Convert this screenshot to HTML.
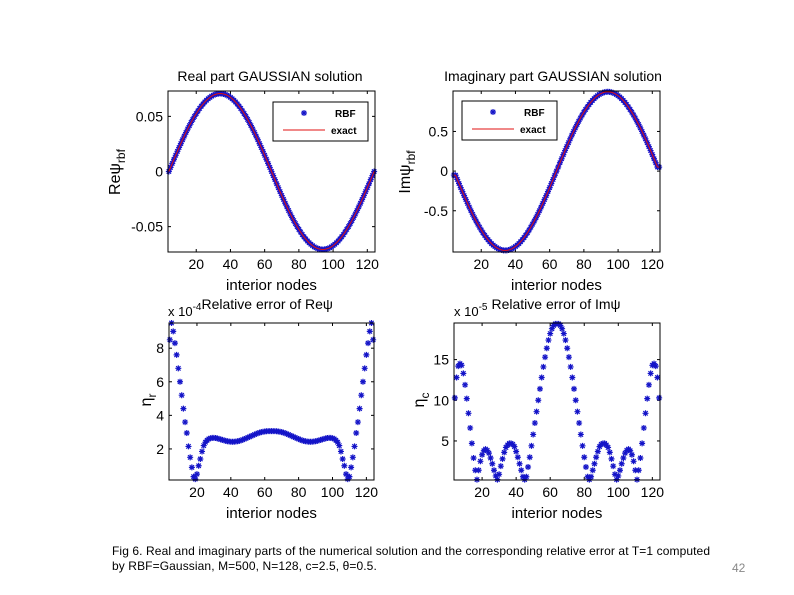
<!DOCTYPE html>
<html><head><meta charset="utf-8"><style>
html,body{margin:0;padding:0;background:#fff;}
svg{display:block;font-family:"Liberation Sans",sans-serif;}
.cap{position:absolute;left:112px;font-family:"Liberation Sans",sans-serif;font-size:12px;letter-spacing:0.1px;color:#000;white-space:nowrap;}
</style></head><body>
<div style="position:relative;width:794px;height:595px;overflow:hidden">
<svg id="fig" width="794" height="595"></svg>
<div class="cap" style="top:544px">Fig 6. Real and imaginary parts of the numerical solution and the corresponding relative error at T=1 computed</div>
<div class="cap" style="top:559px">by RBF=Gaussian, M=500, N=128, c=2.5, θ=0.5.</div>
<div style="position:absolute;left:732px;top:561px;font-family:'Liberation Sans',sans-serif;font-size:12px;color:#888">42</div>
</div>
<script>
const xStart = 4;
const xTicks = [20,40,60,80,100,120];
const reTicks = [-0.05,0,0.05];
const reTickLabels = ["-0.05","0","0.05"];
const imTicks = [-0.5,0,0.5];
const imTickLabels = ["-0.5","0","0.5"];
const errReTicks = [2,4,6,8];
const errImTicks = [5,10,15];
const rePsi = [0,.0037,.0074,.0111,.0147,.0183,.0218,.0253,.0288,.0321,.0354,.0385,.0416,.0445,.0473,.0500,.0525,.0549,.0572,.0593,.0612,.0630,.0646,.0660,.0672,.0683,.0692,.0698,.0703,.0706,.0707,
.0706,.0703,.0698,.0692,.0683,.0672,.0660,.0646,.0630,.0612,.0593,.0572,.0549,.0525,.0500,.0473,.0445,.0416,.0385,.0354,.0321,.0288,.0253,.0218,.0183,.0147,.0111,.0074,.0037,0,
-.0037,-.0074,-.0111,-.0147,-.0183,-.0218,-.0253,-.0288,-.0321,-.0354,-.0385,-.0416,-.0445,-.0473,-.0500,-.0525,-.0549,-.0572,-.0593,-.0612,-.0630,-.0646,-.0660,-.0672,-.0683,-.0692,-.0698,-.0703,-.0706,-.0707,
-.0706,-.0703,-.0698,-.0692,-.0683,-.0672,-.0660,-.0646,-.0630,-.0612,-.0593,-.0572,-.0549,-.0525,-.0500,-.0473,-.0445,-.0416,-.0385,-.0354,-.0321,-.0288,-.0253,-.0218,-.0183,-.0147,-.0111,-.0074,-.0037,0];
const imPsi = [-.05,-.052,-.105,-.156,-.208,-.259,-.309,-.358,-.407,-.454,-.5,-.545,-.588,-.629,-.669,-.707,-.743,-.777,-.809,-.839,-.866,-.891,-.914,-.934,-.951,-.966,-.978,-.988,-.995,-.999,-1,
-.999,-.995,-.988,-.978,-.966,-.951,-.934,-.914,-.891,-.866,-.839,-.809,-.777,-.743,-.707,-.669,-.629,-.588,-.545,-.5,-.454,-.407,-.358,-.309,-.259,-.208,-.156,-.105,-.052,0,
.052,.105,.156,.208,.259,.309,.358,.407,.454,.5,.545,.588,.629,.669,.707,.743,.777,.809,.839,.866,.891,.914,.934,.951,.966,.978,.988,.995,.999,1,
.999,.995,.988,.978,.966,.951,.934,.914,.891,.866,.839,.809,.777,.743,.707,.669,.629,.588,.545,.5,.454,.407,.358,.309,.259,.208,.156,.105,.052,.05];
const errRe = [8.5,9.5,9.0,8.3,7.6,6.8,6.0,5.2,4.4,3.6,2.95,2.15,1.5,0.9,0.35,0.2,0.5,1.0,1.4,1.85,2.2,2.4,2.52,2.6,2.64,2.66,2.66,2.65,2.63,2.6,2.57,2.54,2.51,2.48,2.46,2.44,2.43,2.43,2.43,2.44,2.46,2.48,2.51,2.55,2.59,2.63,2.68,2.72,2.77,2.81,2.86,2.9,2.94,2.97,3.0,3.02,3.04,3.05,3.06,3.06,3.06,
3.06,3.06,3.05,3.04,3.02,3.0,2.97,2.94,2.9,2.86,2.81,2.77,2.72,2.68,2.63,2.59,2.55,2.51,2.48,2.46,2.44,2.43,2.43,2.43,2.44,2.46,2.48,2.51,2.54,2.57,2.6,2.63,2.65,2.66,2.66,2.64,2.6,2.52,2.4,2.2,1.85,1.4,1.0,0.5,0.2,0.35,0.9,1.5,2.15,2.95,3.6,4.4,5.2,6.0,6.8,7.6,8.3,9.0,9.5,8.5];
const errIm = [10.3,12.8,14.2,14.5,14.3,13.3,11.9,10.2,8.4,6.6,4.7,2.9,1.4,0.25,1.4,2.5,3.3,3.8,4.0,3.85,3.5,2.9,2.2,1.4,0.7,0.25,0.9,1.9,2.8,3.6,4.2,4.5,4.7,4.7,4.6,4.3,3.7,3.0,2.2,1.4,0.6,0.25,0.6,1.8,3.0,4.4,5.8,7.2,8.6,10.0,11.4,12.8,14.1,15.3,16.4,17.4,18.2,18.8,19.2,19.4,19.4,
19.4,19.2,18.8,18.2,17.4,16.4,15.3,14.1,12.8,11.4,10.0,8.6,7.2,5.8,4.4,3.0,1.8,0.6,0.25,0.6,1.4,2.2,3.0,3.7,4.3,4.6,4.7,4.7,4.5,4.2,3.6,2.8,1.9,0.9,0.25,0.7,1.4,2.2,2.9,3.5,3.85,4.0,3.8,3.3,2.5,1.4,0.25,1.4,2.9,4.7,6.6,8.4,10.2,11.9,13.3,14.3,14.5,14.2,12.8,10.3];

const NS='http://www.w3.org/2000/svg';
const svg=document.getElementById('fig');
function mk(tag,attrs,parent){const e=document.createElementNS(NS,tag);for(const k in attrs)e.setAttribute(k,attrs[k]);(parent||svg).appendChild(e);return e;}
const XD=[3.5,124.5];
function star(g,cx,cy){
  const d=`M${cx-3},${cy}H${cx+3}M${cx},${cy-3}V${cy+3}M${cx-2.2},${cy-2.2}L${cx+2.2},${cy+2.2}M${cx-2.2},${cy+2.2}L${cx+2.2},${cy-2.2}`;
  const p=mk('path',{d:d,stroke:'#1414c8','stroke-width':1.2,fill:'none'},g);
  
  
}
function panel(o){
  const g=mk('g',{});
  
  
  const sx=v=>o.l+(v-XD[0])/(XD[1]-XD[0])*(o.r-o.l);
  const sy=v=>o.b-(v-o.yd[0])/(o.yd[1]-o.yd[0])*(o.b-o.t);
  xTicks.forEach(t=>{const x=sx(t);
    mk('line',{x1:x,x2:x,y1:o.b,y2:o.b-3,stroke:'#000'},g);
    mk('line',{x1:x,x2:x,y1:o.t,y2:o.t+3,stroke:'#000'},g);
    const tx=mk('text',{x:x,y:o.b+17,'font-size':14,'text-anchor':'middle'},g);tx.textContent=t;
    });
  o.yt.forEach((t,i)=>{const y=sy(t);
    mk('line',{x1:o.l,x2:o.l+3,y1:y,y2:y,stroke:'#000'},g);
    mk('line',{x1:o.r,x2:o.r-3,y1:y,y2:y,stroke:'#000'},g);
    const tx=mk('text',{x:o.l-5,y:y+5,'font-size':14,'text-anchor':'end'},g);tx.textContent=o.ytl?o.ytl[i]:t;
    });
  const clipId='c'+o.name;
  const cp=mk('clipPath',{id:clipId},g);mk('rect',{x:o.l-4,y:o.t-4,width:o.r-o.l+8,height:o.b-o.t+8},cp);
  const pg=mk('g',{'clip-path':`url(#${clipId})`},g);
  if(o.line){let d='';o.data.forEach((v,i)=>{d+=(i?'L':'M')+sx(xStart+i).toFixed(2)+','+sy(v).toFixed(2);});
    const ln=mk('path',{d:d,stroke:'#7a2ad0','stroke-width':4,fill:'none'},pg);
    }
  o.data.forEach((v,i)=>star(pg,sx(xStart+i),sy(v)));
  if(o.line){let d='';o.data.forEach((v,i)=>{d+=(i?'L':'M')+sx(xStart+i).toFixed(2)+','+sy(v).toFixed(2);});
    const ln=mk('path',{d:d,stroke:'#e01010','stroke-width':1,fill:'none'},pg);
    }
  const box=mk('rect',{x:o.l,y:o.t,width:o.r-o.l,height:o.b-o.t,fill:'none',stroke:'#000','stroke-width':1},g);
  
  const xl=mk('text',{x:(o.l+o.r)/2,y:o.b+38,'font-size':15,'text-anchor':'middle'},g);xl.textContent='interior nodes';
  
  return {sx,sy,g};
}
function legend(x,y){
  const g=mk('g',{});
  
  
  mk('rect',{x:x,y:y,width:95,height:39,fill:'#fff',stroke:'#000'},g);
  star(g,x+31,y+11);
  const t1=mk('text',{x:x+62,y:y+15,'font-size':10,'font-weight':'bold'},g);t1.textContent='RBF';
  
  mk('line',{x1:x+10,x2:x+52,y1:y+28,y2:y+28,stroke:'#e01010'},g);
  const t2=mk('text',{x:x+58,y:y+32,'font-size':10,'font-weight':'bold'},g);t2.textContent='exact';
  
}
function title(x,y,txt,name){const t=mk('text',{x:x,y:y,'font-size':14,'text-anchor':'middle'});t.textContent=txt;
  return t;}
function ylab(x,y,main,sub,name){
  const t=mk('text',{x:0,y:0,'font-size':16,transform:`translate(${x},${y}) rotate(-90)`,'text-anchor':'middle'});
  
  const a=mk('tspan',{},t);a.textContent=main;
  const b=mk('tspan',{'font-size':12,dy:5},t);b.textContent=sub;
}
panel({name:'real-part-panel',l:168,r:375,t:91,b:252,yd:[-0.073,0.073],yt:reTicks,ytl:reTickLabels,data:rePsi,line:true});
legend(273,102);
title(270,81,'Real part GAUSSIAN solution','real-part-title');
ylab(120,172,'Reψ','rbf','real-y-axis-title');
panel({name:'imag-part-panel',l:453,r:660,t:91,b:252,yd:[-1.02,1.01],yt:imTicks,ytl:imTickLabels,data:imPsi,line:true});
legend(462,101);
title(553,81,'Imaginary part GAUSSIAN solution','imag-part-title');
ylab(410,172,'Imψ','rbf','imag-y-axis-title');
panel({name:'real-error-panel',l:169,r:374,t:323,b:480,yd:[0.15,9.5],yt:errReTicks,data:errRe,line:false});
ylab(151,400,'η','r','real-error-y-axis-title');
{const t=mk('text',{x:168,y:316,'font-size':13});
 const a=mk('tspan',{},t);a.textContent='x 10';const b=mk('tspan',{dy:-6,'font-size':10},t);b.textContent='-4';
 const c=mk('tspan',{dy:-1,'font-size':14},t);c.textContent='Relative error of Reψ';}
panel({name:'imag-error-panel',l:454,r:660,t:323,b:480,yd:[0.2,19.5],yt:errImTicks,data:errIm,line:false});
ylab(424,400,'η','c','imag-error-y-axis-title');
{const t=mk('text',{x:454,y:316,'font-size':13});
 const a=mk('tspan',{},t);a.textContent='x 10';const b=mk('tspan',{dy:-6,'font-size':10},t);b.textContent='-5';
 const c=mk('tspan',{dy:-1,dx:4,'font-size':14},t);c.textContent='Relative error of Imψ';}
</script>
</body></html>
